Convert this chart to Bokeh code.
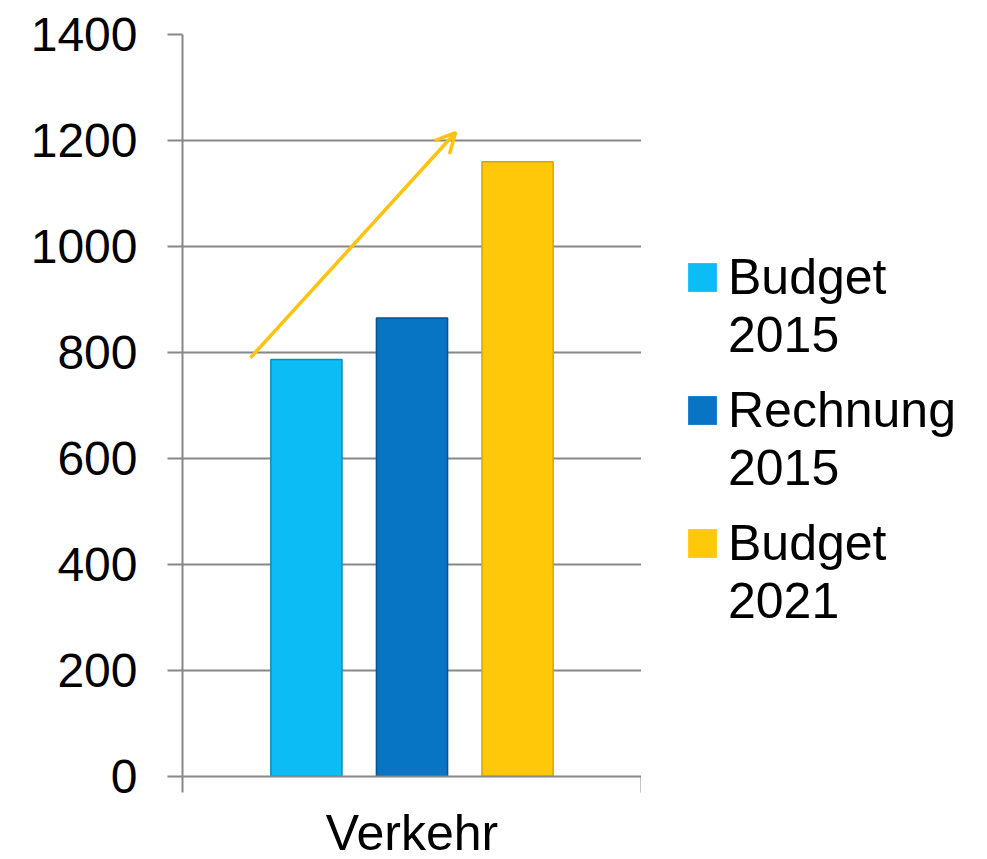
from bokeh.plotting import figure
from bokeh.layouts import row
from bokeh.models import (ColumnDataSource, FixedTicker, Legend, LegendItem,
                          Arrow, OpenHead, Range1d)
from bokeh.embed import file_html
from bokeh.resources import INLINE

# ---- data ----
category = "Verkehr"
series_line1 = ["Budget", "Rechnung", "Budget"]
series_line2 = ["2015", "2015", "2021"]
values = [787, 865, 1160]
colors = ["#0BBDF4", "#0874C4", "#FFC909"]
edge_colors = ["#0A8FBB", "#05548E", "#D9A400"]
y_ticks = [0, 200, 400, 600, 800, 1000, 1200, 1400]
arrow_from = 790
arrow_to = 1215

FONT = "Liberation Sans"
GRID = "#878787"

p = figure(frame_width=459, frame_height=742, width=641, height=859,
           output_backend="svg", toolbar_location=None,
           x_range=Range1d(0, 1), y_range=Range1d(0, 1400),
           min_border_left=182, min_border_top=34, min_border_right=0,
           min_border_bottom=83)

offsets = [-0.23, 0.0, 0.23]
bar_w = 0.155
sources = []
for i, v in enumerate(values):
    src = ColumnDataSource(dict(x=[0.5 + offsets[i]], top=[v]))
    sources.append(src)
    p.vbar(x="x", top="top", bottom=0, width=bar_w, source=src,
           fill_color=colors[i], line_color=edge_colors[i], line_width=1.5)

# arrow
p.add_layout(Arrow(x_start=0.148, y_start=arrow_from, x_end=0.595, y_end=arrow_to,
                   line_color="#FFC20E", line_width=3.5,
                   end=OpenHead(size=20, line_color="#FFC20E", line_width=3.5)))

# axes
p.yaxis.ticker = FixedTicker(ticks=y_ticks)
p.yaxis.major_tick_out = 15
p.yaxis.major_tick_in = 0
p.yaxis.minor_tick_line_color = None
p.yaxis.major_label_text_font = FONT
p.yaxis.major_label_text_font_size = "48px"
p.yaxis.major_label_text_color = "black"
p.yaxis.major_label_standoff = 30
p.yaxis.axis_line_color = GRID
p.yaxis.axis_line_width = 2
p.yaxis.major_tick_line_color = GRID
p.yaxis.major_tick_line_width = 2

p.xaxis.ticker = FixedTicker(ticks=[0.5], minor_ticks=[0, 1])
p.xaxis.major_label_overrides = {0.5: category}
p.xaxis.major_tick_out = 0
p.xaxis.major_tick_in = 0
p.xaxis.major_tick_line_color = None
p.xaxis.minor_tick_out = 16
p.xaxis.minor_tick_in = 0
p.xaxis.minor_tick_line_color = GRID
p.xaxis.minor_tick_line_width = 2
p.xaxis.axis_line_color = GRID
p.xaxis.axis_line_width = 2
p.xaxis.major_label_text_font = FONT
p.xaxis.major_label_text_font_size = "50px"
p.xaxis.major_label_text_color = "black"
p.xaxis.major_label_standoff = 12

p.xgrid.grid_line_color = None
p.ygrid.ticker = FixedTicker(ticks=y_ticks)
p.ygrid.grid_line_color = GRID
p.ygrid.grid_line_width = 2
p.outline_line_color = None

# ---- legend panel (its bars lie outside its own view; only the legend shows) ----
lg = figure(width=338, height=859, output_backend="svg", toolbar_location=None,
            x_range=Range1d(2, 3), y_range=Range1d(2000, 3000),
            x_axis_location=None, y_axis_location=None,
            min_border=0)
lg.grid.visible = False
lg.outline_line_color = None
items1, items2 = [], []
for i in range(len(values)):
    r = lg.vbar(x="x", top="top", bottom=0, width=bar_w, source=sources[i],
                fill_color=colors[i], line_color=None)
    ghost = lg.vbar(x="x", top="top", bottom=0, width=bar_w, source=sources[i],
                    fill_alpha=0, line_color=None)
    items1.append(LegendItem(label=series_line1[i], renderers=[r]))
    items2.append(LegendItem(label=series_line2[i], renderers=[ghost]))

common = dict(label_text_font=FONT, label_text_font_size="50px",
              label_text_color="black", glyph_width=36, glyph_height=36,
              spacing=75, padding=4, border_line_color=None,
              background_fill_alpha=0, label_standoff=8)
lg.add_layout(Legend(items=items2, location=(43, 142), **common))
lg.add_layout(Legend(items=items1, location=(43, 200), **common))

layout = row(p, lg, spacing=0)
open("out.html", "w").write(file_html(layout, INLINE))
